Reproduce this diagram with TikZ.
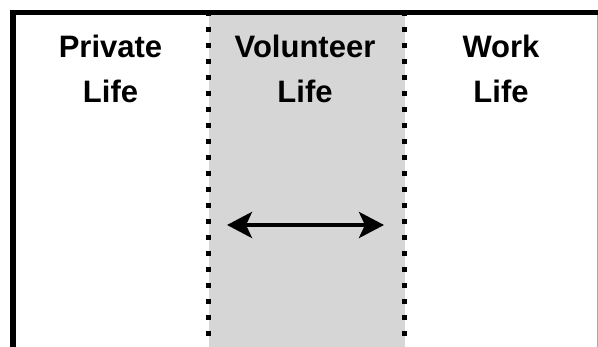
\documentclass[tikz,border=0pt]{standalone}
\usepackage{fontspec}
\setmainfont{Liberation Sans}
\usetikzlibrary{arrows.meta}
\definecolor{midgray}{HTML}{D6D6D6}
\tikzset{
  lbl/.style={font=\bfseries\fontsize{31}{45}\selectfont, inner sep=0pt, anchor=base},
  frame/.style={line width=5.5pt, black},
  dotline/.style={line width=5pt, dash pattern=on 5pt off 11pt, black},
  twoarrow/.style={line width=4pt, {Stealth[length=25pt,width=26pt,inset=6pt]}-{Stealth[length=25pt,width=26pt,inset=6pt]}}
}
\begin{document}
\begin{tikzpicture}[x=1pt,y=1pt]
\useasboundingbox (0,0) rectangle (598,347);
% gray band
\fill[midgray] (208.5,0) rectangle (404.5,334);
% frame
\draw[frame] (13,0) -- (13,334.5) -- (598,334.5);
\draw[gray!70, line width=0.8pt] (597.6,0) -- (597.6,332);
% dotted borders
\draw[dotline] (208.5,336) -- (208.5,0);
\draw[dotline] (404.5,336) -- (404.5,0);
% labels
\node[lbl] (p1) at (110.5,289) {Private};
\node[lbl] (p2) at (110.5,244) {Life};
\node[lbl] (v1) at (305,289) {Volunteer};
\node[lbl] (v2) at (305,244) {Life};
\node[lbl] (w1) at (501,289) {Work};
\node[lbl] (w2) at (501,244) {Life};
% arrow
\coordinate (al) at (227,122);
\coordinate (ar) at (384,122);
\draw[twoarrow] (al) -- (ar);
\end{tikzpicture}
\end{document}
